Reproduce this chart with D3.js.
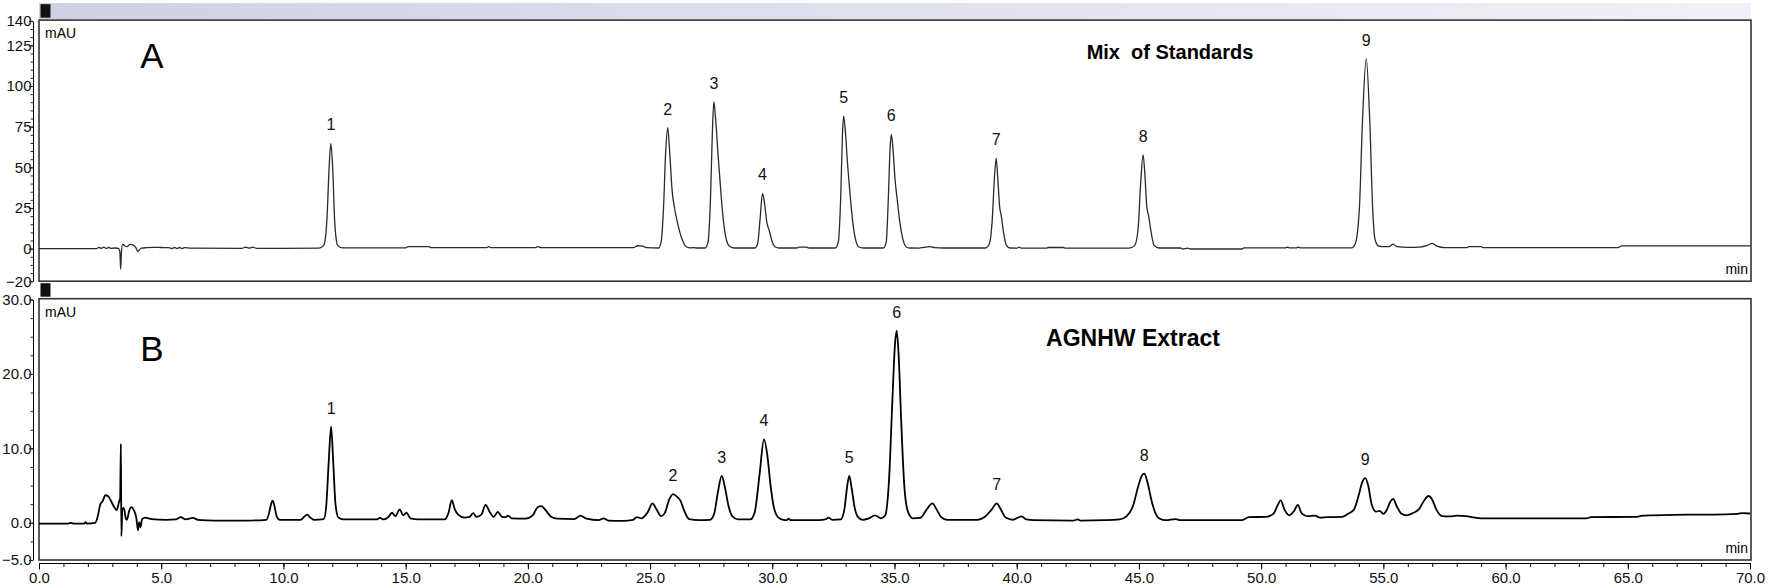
<!DOCTYPE html>
<html>
<head>
<meta charset="utf-8">
<script src="https://cdn.jsdelivr.net/npm/d3@7"></script>
<style>
body { margin: 0; background: #fff; }
svg { display: block; font-family: Arial, "Liberation Sans", sans-serif; }
</style>
</head>
<body>
<div id="chart"></div>
<script>
// retention time (min), absorbance (mAU)
var traceA = [[0,0],[2.35,0],[2.45,0.8],[2.55,0.2],[2.65,0.9],[2.75,0.1],[2.85,0.7],[2.95,0.2],[3.1,0.4],[3.25,0.2],[3.31,-2],[3.34,-12.7],[3.37,-3],[3.42,2.8],[3.5,1.8],[3.6,1.2],[3.72,2.6],[3.85,2.2],[3.97,0.5],[4.04,-1.8],[4.12,-0.5],[4.2,0.3],[4.4,0.6],[4.7,0.8],[5.0,0.7],[5.3,0.6],[5.45,0.1],[5.55,0.7],[5.65,0.1],[5.75,0.7],[5.85,0.1],[5.95,0.6],[6.2,0.3],[8.3,0.2],[8.45,0.9],[8.6,0.3],[8.75,0.9],[8.9,0.2],[11.45,0.3],[11.65,2],[11.78,18],[11.87,50],[11.94,64.7],[12.02,48],[12.1,16],[12.22,2],[12.4,0.5],[15.0,0.5],[15.1,1.3],[15.95,1.3],[16.05,0.6],[18.3,0.6],[18.4,1.2],[18.5,0.6],[20.3,0.6],[20.4,1.2],[20.55,0.6],[24.3,0.6],[24.5,1.8],[24.7,1.5],[24.85,0.6],
  [25.35,0.4],[25.45,4],[25.55,25],[25.64,60],[25.72,74.4],[25.8,60],[25.9,36],[26.0,25],[26.12,16],[26.28,7],[26.48,1.2],[26.65,0.5],[26.8,0.6],[26.9,0.4],
  [27.25,0.4],[27.37,4],[27.47,30],[27.55,72],[27.61,90.4],[27.68,80],[27.78,58],[27.88,38],[27.98,20],[28.1,7],[28.25,1.5],[28.45,0.4],
  [29.28,0.4],[29.4,3],[29.5,18],[29.6,34],[29.69,27],[29.78,16],[29.88,11],[29.98,5],[30.12,1],[30.28,0.4],[31.0,0.4],[31.1,0.9],[31.4,0.9],[31.5,0.4],
  [32.58,0.4],[32.7,4],[32.8,32],[32.87,70],[32.92,81.4],[32.99,72],[33.08,52],[33.18,34],[33.28,18],[33.4,6],[33.55,1],[33.72,0.4],
  [34.55,0.4],[34.66,4],[34.75,32],[34.82,62],[34.87,70.2],[34.94,61],[35.02,43],[35.12,29],[35.22,16],[35.34,6],[35.48,1],[35.62,0.4],[36.0,0.3],[36.2,0.8],[36.45,1.3],[36.65,0.6],[37.0,0.4],
  [38.72,0.4],[38.88,3],[39.0,18],[39.09,44],[39.16,55.7],[39.23,42],[39.3,26],[39.37,20],[39.46,10],[39.58,2],[39.72,0.4],[40.0,0.3],[40.1,0.9],[40.2,0.3],[41.2,0.3],[41.3,0.7],[41.9,0.7],[42.0,0.3],
  [44.6,0.3],[44.83,2],[44.97,13],[45.07,40],[45.17,57.7],[45.25,44],[45.32,26],[45.4,20],[45.5,10],[45.62,2],[45.82,0.4],[46.7,0.4],[46.8,-0.2],[47.0,0.3],[47.1,-0.2],[49.2,-0.2],[49.3,0.5],[51.0,0.5],[51.05,1.0],[51.15,0.5],[51.45,0.5],[51.5,1.0],[51.6,0.5],
  [53.7,0.5],[53.85,3],[54.02,25],[54.15,80],[54.3,116.8],[54.44,80],[54.57,22],[54.67,5],[54.82,1.5],[55.0,1.2],[55.25,1.3],[55.4,2.8],[55.55,1.2],[56.0,0.8],[56.5,1.0],[56.8,2.0],[57.0,3.2],[57.2,1.5],[57.5,0.6],[58.4,0.6],[58.5,1.2],[59.0,1.2],[59.1,0.6],[64.6,0.6],[64.75,1.7],[70,1.7]];

var traceB = [[0,-0.1],[1.2,-0.1],[1.3,0],[1.4,-0.1],[1.85,-0.1],[1.9,0.1],[1.95,-0.1],[2.3,0],[2.4,0.8],[2.5,2.4],[2.6,2.9],[2.72,3.7],[2.82,3.6],[2.95,2.9],[3.08,2.1],[3.18,1.7],[3.28,2.9],[3.32,3.3],[3.35,10.6],[3.37,-1.8],[3.41,1.8],[3.47,2.0],[3.55,0.6],[3.6,0.4],[3.68,1.5],[3.78,2.1],[3.88,1.7],[3.98,0.7],[4.05,-1.0],[4.1,0.1],[4.15,-0.6],[4.22,0.5],[4.35,0.7],[4.6,0.5],[5.2,0.4],[5.6,0.45],[5.8,0.75],[6.0,0.45],[6.3,0.65],[6.5,0.4],[7.2,0.3],[8.5,0.3],[9.3,0.4],[9.42,1.4],[9.5,2.6],[9.56,2.96],[9.63,2.3],[9.72,0.9],[9.85,0.4],[10.7,0.4],[10.85,0.8],[10.97,1.1],[11.1,0.7],[11.25,0.4],[11.65,0.5],[11.75,2.2],[11.85,8],[11.95,12.9],[12.04,8],[12.13,2.5],[12.25,0.7],[12.45,0.45],
  [13.8,0.45],[13.95,0.65],[14.1,0.45],[14.3,0.8],[14.44,1.35],[14.58,0.9],[14.76,1.8],[14.9,1.0],[15.03,1.35],[15.2,0.6],[15.5,0.45],[16.6,0.45],[16.75,1.3],[16.89,3.05],[17.0,1.9],[17.15,1.1],[17.4,0.7],[17.62,0.8],[17.76,1.3],[17.9,0.8],[18.1,1.1],[18.27,2.4],[18.45,1.4],[18.6,0.8],[18.77,1.45],[18.95,0.8],[19.1,0.75],[19.19,0.95],[19.35,0.6],[19.9,0.55],[20.2,1.0],[20.4,2.1],[20.55,2.25],[20.75,1.6],[20.95,0.8],[21.2,0.55],[21.9,0.5],[22.15,0.95],[22.4,0.55],[22.9,0.35],[23.1,0.6],[23.3,0.3],[23.9,0.25],[24.3,0.4],[24.46,0.75],[24.65,0.6],[24.9,1.4],[25.1,2.6],[25.25,1.9],[25.45,0.9],[25.6,1.3],[25.78,3.1],[25.94,3.85],[26.1,3.5],[26.25,2.9],[26.4,1.6],[26.6,0.5],[27.0,0.35],
  [27.45,0.4],[27.62,1.2],[27.78,4.2],[27.93,6.3],[28.06,4.8],[28.2,2.4],[28.36,0.9],[28.6,0.45],[29.1,0.45],[29.28,1.4],[29.48,6.5],[29.66,11.2],[29.8,9.0],[29.93,5.0],[30.07,2.0],[30.25,0.7],[30.45,0.4],[30.6,0.35],[30.66,0.55],[30.75,0.35],[31.9,0.36],[32.2,0.5],[32.3,0.7],[32.45,0.4],[32.8,0.45],[32.95,1.8],[33.06,4.8],[33.15,6.3],[33.25,4.6],[33.36,2.2],[33.5,0.8],[33.7,0.4],[33.95,0.6],[34.2,1.0],[34.45,0.6],[34.62,1.0],[34.78,6],[34.92,17],[35.02,24],[35.09,25.8],[35.17,22.5],[35.27,14],[35.4,5],[35.55,1.5],[35.75,0.6],[36.05,0.65],[36.3,1.7],[36.55,2.6],[36.72,1.8],[36.9,0.8],[37.15,0.4],
  [38.4,0.4],[38.7,0.8],[38.98,1.8],[39.18,2.6],[39.35,1.8],[39.55,0.7],[39.85,0.4],[40.05,0.7],[40.2,0.85],[40.4,0.45],[40.7,0.35],[42.3,0.3],[42.5,0.45],[42.6,0.3],[43.6,0.35],[44.2,0.45],[44.5,0.9],[44.75,2.2],[44.98,5.0],[45.1,6.2],[45.22,6.6],[45.36,5.3],[45.5,3.2],[45.65,1.5],[45.85,0.55],[46.1,0.35],[46.5,0.5],[46.7,0.35],[49.2,0.35],[49.5,0.75],[50.2,0.8],[50.5,1.2],[50.68,2.4],[50.8,3.0],[50.95,1.8],[51.15,1.0],[51.35,1.6],[51.5,2.4],[51.65,1.3],[51.9,0.9],[52.2,0.95],[52.4,0.7],[52.7,0.75],[53.3,0.8],[53.55,1.2],[53.8,1.8],[54.0,3.8],[54.14,5.5],[54.26,6.0],[54.38,5.0],[54.52,2.5],[54.7,1.5],[54.85,1.6],[55.0,1.2],[55.15,1.8],[55.28,2.8],[55.4,3.2],[55.55,2.2],[55.75,1.2],[55.95,1.0],[56.2,1.3],[56.45,1.8],[56.65,2.9],[56.85,3.6],[57.0,3.1],[57.18,1.7],[57.4,0.9],[57.7,0.85],[58.0,0.95],[58.4,0.9],[58.6,0.75],[59.0,0.6],[63.3,0.6],[63.5,0.75],[65.3,0.8],[65.6,0.95],[66.0,1.0],[67.5,1.1],[68.5,1.1],[69.5,1.2],[69.7,1.3],[70,1.25]];

// peak number, retention time, height
var peaksA = [[1,11.94,64.7],[2,25.72,74.4],[3,27.61,90.4],[4,29.6,34],[5,32.92,81.4],[6,34.87,70.2],[7,39.16,55.7],[8,45.17,57.7],[9,54.3,116.8]];
var peaksB = [[1,11.95,12.9],[2,25.94,3.85],[3,27.93,6.3],[4,29.66,11.2],[5,33.15,6.3],[6,35.09,25.8],[7,39.18,2.6],[8,45.22,6.6],[9,54.26,6.0]];

var yTicksA = [140, 125, 100, 75, 50, 25, 0, -20];
var yTicksB = [30, 20, 10, 0, -5];
var xTicks = [0, 5, 10, 15, 20, 25, 30, 35, 40, 45, 50, 55, 60, 65, 70];

(function() {
    var svg = d3.select("#chart").append("svg")
        .attr("width", 1771)
        .attr("height", 587);

    var box = {xmin: 39, xmax: 1751};

    var x = d3.scaleLinear().domain([0, 70]).range([39, 1750]);

    var grad = svg.append("defs").append("linearGradient")
        .attr("id", "strip")
        .attr("x1", "0").attr("x2", "1").attr("y1", "0").attr("y2", "0");
    grad.append("stop").attr("offset", "0").attr("stop-color", "#cfd1e3");
    grad.append("stop").attr("offset", "1").attr("stop-color", "#f0f1f8");

    var panels = [
        {letter: "A", title: "Mix  of Standards", trace: traceA, peaks: peaksA, ticks: yTicksA,
         domain: [-20, 140], top: 20.9, bottom: 281.2, minor: 5, fmt: d3.format("d"),
         strip: [3, 19.5], fill: "url(#strip)", color: "#2a2a2a", lw: 1.3,
         titleX: 1170, titleY: 59, titleSize: 20},
        {letter: "B", title: "AGNHW Extract", trace: traceB, peaks: peaksB, ticks: yTicksB,
         domain: [-5, 30], top: 299.5, bottom: 560, minor: 2.5, fmt: d3.format(".1f"),
         strip: [282, 299.5], fill: "#fff", color: "#000", lw: 1.8,
         titleX: 1133, titleY: 346, titleSize: 23}
    ];

    panels.forEach(function(p) {
        var y = d3.scaleLinear().domain(p.domain).range([p.bottom, p.top]);

        // header strip + little black marker
        svg.append("rect")
            .attr("x", box.xmin).attr("y", p.strip[0])
            .attr("width", box.xmax - box.xmin).attr("height", p.strip[1] - p.strip[0])
            .attr("fill", p.fill);
        svg.append("rect")
            .attr("x", box.xmin + 1.5).attr("y", p.strip[0] + 1.2)
            .attr("width", 10).attr("height", 13.5)
            .attr("fill", "#111");

        // frame
        svg.append("rect")
            .attr("x", box.xmin).attr("y", p.top - 0.8)
            .attr("width", box.xmax - box.xmin).attr("height", p.bottom - p.top + 0.8)
            .attr("fill", "none")
            .attr("stroke", "#333")
            .attr("stroke-width", 1.6);

        // y axis, minor then major
        var g = svg.append("g").attr("transform", "translate(33,0)");
        g.call(d3.axisLeft(y)
            .tickValues(d3.range(p.domain[0], p.domain[1] + 0.01, p.minor))
            .tickSize(2.5).tickSizeOuter(0).tickFormat(""));
        var gm = svg.append("g").attr("transform", "translate(33,0)");
        gm.call(d3.axisLeft(y)
            .tickValues(p.ticks)
            .tickSize(4).tickSizeOuter(0).tickPadding(-2.5)
            .tickFormat(p.fmt));
        gm.select(".domain").remove();
        svg.selectAll("g .tick line").attr("stroke", "#222");
        gm.selectAll("text")
            .attr("font-size", "15px")
            .attr("font-family", "Arial, 'Liberation Sans', sans-serif")
            .attr("fill", "#111");

        // trace
        var line = d3.line()
            .x(function(d) { return x(d[0]); })
            .y(function(d) { return y(d[1]); })
            .curve(d3.curveMonotoneX);
        svg.append("path")
            .datum(p.trace)
            .attr("d", line)
            .attr("fill", "none")
            .attr("stroke", p.color)
            .attr("stroke-width", p.lw)
            .attr("stroke-linejoin", "round");

        // peak numbers
        svg.selectAll(".peak" + p.letter)
            .data(p.peaks)
            .enter().append("text")
                .attr("class", "peak" + p.letter)
                .attr("text-anchor", "middle")
                .attr("x", function(d) { return x(d[1]); })
                .attr("y", function(d) { return y(d[2]) - 13; })
                .style("font-size", "16px")
                .attr("fill", "#111")
                .text(function(d) { return d[0]; });

        svg.append("text")
            .attr("x", 45).attr("y", p.top + 17.5)
            .style("font-size", "14px")
            .text("mAU");

        svg.append("text")
            .attr("x", 152).attr("y", p.letter == "A" ? 68 : 361)
            .attr("text-anchor", "middle")
            .style("font-size", "35px")
            .text(p.letter);

        svg.append("text")
            .attr("x", p.titleX).attr("y", p.titleY)
            .attr("text-anchor", "middle")
            .style("font-size", p.titleSize + "px")
            .style("font-weight", "bold")
            .style("white-space", "pre")
            .text(p.title);

        svg.append("text")
            .attr("x", 1748).attr("y", p.bottom - 7)
            .attr("text-anchor", "end")
            .style("font-size", "14px")
            .text("min");
    });

    // time axis
    var gx = svg.append("g").attr("transform", "translate(0,563)");
    gx.call(d3.axisBottom(x)
        .tickValues(d3.range(0, 71, 1))
        .tickSize(4).tickSizeOuter(0).tickFormat(""));
    var gxm = svg.append("g").attr("transform", "translate(0,563)");
    gxm.call(d3.axisBottom(x)
        .tickValues(xTicks)
        .tickSize(6.5).tickSizeOuter(0).tickPadding(3)
        .tickFormat(d3.format(".1f")));
    gxm.select(".domain").remove();
    gxm.selectAll("text")
        .attr("font-size", "15px")
        .attr("font-family", "Arial, 'Liberation Sans', sans-serif")
        .attr("fill", "#111");
})();
</script>
</body>
</html>
